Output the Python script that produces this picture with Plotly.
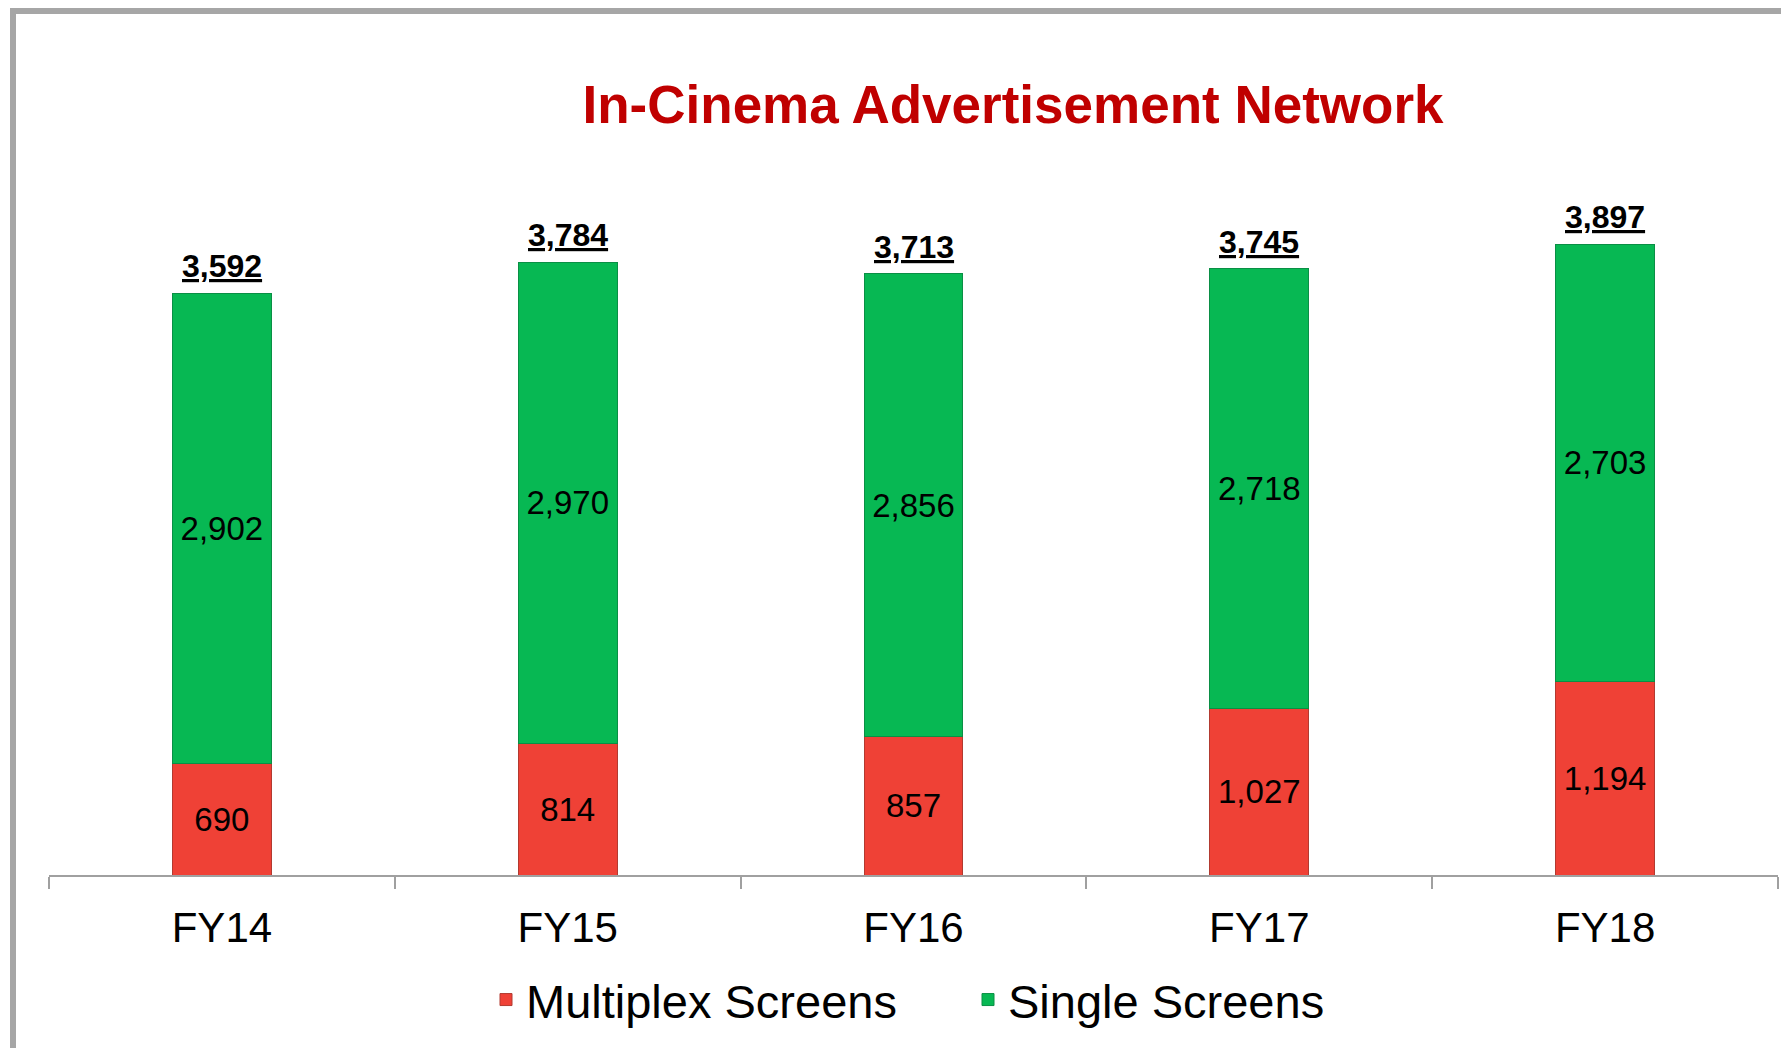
import plotly.graph_objects as go

# ---- data ----
categories = ["FY14", "FY15", "FY16", "FY17", "FY18"]
multiplex_screens = [690, 814, 857, 1027, 1194]
single_screens = [2902, 2970, 2856, 2718, 2703]
series_names = ["Multiplex Screens", "Single Screens"]
chart_title = "In-Cinema Advertisement Network"

totals = [m + s for m, s in zip(multiplex_screens, single_screens)]

# ---- layout geometry (pixels) ----
W, H = 1781, 1048
L_M, R_M, T_M, B_M = 49, 3, 150, 173
PW = W - L_M - R_M
PH = H - T_M - B_M

def px_x(p):
    return (p - L_M) / PW

def px_y(p):
    return (H - B_M - p) / PH

FONT = "Liberation Sans, Arial, Helvetica, sans-serif"
RED = "#EF4136"
GREEN = "#07B853"

fig = go.Figure()
fig.add_trace(go.Bar(
    x=categories, y=multiplex_screens, name=series_names[0],
    marker=dict(color=RED, line=dict(color="#B23A30", width=1)),
    texttemplate="%{y:,}", textposition="inside", insidetextanchor="middle",
    textangle=0, constraintext="none",
    textfont=dict(size=33, color="black", family=FONT),
    hoverinfo="skip",
))
fig.add_trace(go.Bar(
    x=categories, y=single_screens, name=series_names[1],
    marker=dict(color=GREEN, line=dict(color="#0A8F45", width=1)),
    texttemplate="%{y:,}", textposition="inside", insidetextanchor="middle",
    textangle=0, constraintext="none",
    textfont=dict(size=33, color="black", family=FONT),
    hoverinfo="skip",
))

for c, t in zip(categories, totals):
    fig.add_annotation(
        x=c, y=t, xref="x", yref="y",
        text=f"<b><u>{t:,}</u></b>", showarrow=False,
        yanchor="bottom", yshift=7,
        font=dict(size=32, color="black", family=FONT),
    )

# frame (top and left grey border)
fig.add_shape(
    type="rect", xref="paper", yref="paper",
    x0=px_x(13), x1=px_x(W + 40), y0=px_y(H + 40), y1=px_y(11),
    line=dict(color="#A6A6A6", width=6), fillcolor="rgba(0,0,0,0)",
    layer="above",
)

fig.update_layout(
    width=W, height=H,
    margin=dict(l=L_M, r=R_M, t=T_M, b=B_M, pad=0),
    paper_bgcolor="white", plot_bgcolor="white",
    barmode="stack", bargap=0.714,
    separators=".,",
    font=dict(family=FONT, color="black"),
    title=dict(
        text=f"<b>{chart_title}</b>",
        x=1013 / W, xanchor="center", xref="container",
        y=1 - 104 / H, yanchor="middle", yref="container",
        font=dict(size=53, color="#C00000", family=FONT),
    ),
    showlegend=True,
    legend=dict(
        orientation="h", x=px_x(486), xanchor="left",
        y=px_y(1000), yanchor="middle",
        font=dict(size=47, color="black", family=FONT),
        traceorder="normal", itemwidth=30,
        entrywidth=437, entrywidthmode="pixels",
        bgcolor="rgba(0,0,0,0)",
    ),
    xaxis=dict(
        type="category", range=[-0.5, len(categories) - 0.5],
        showline=True, linecolor="#A0A0A0", linewidth=2,
        ticks="outside", tickson="boundaries", ticklen=12,
        tickcolor="#A0A0A0", tickwidth=2,
        tickfont=dict(size=42, color="black", family=FONT),
        ticklabelstandoff=15,
        showgrid=False, zeroline=False, fixedrange=True,
    ),
    yaxis=dict(
        range=[0, 4478], visible=False, showgrid=False,
        zeroline=False, fixedrange=True,
    ),
)

fig.write_html(
    "out.html",
    config={"displayModeBar": False},
    post_script="document.body.style.margin='0';document.body.style.overflow='hidden';",
)
